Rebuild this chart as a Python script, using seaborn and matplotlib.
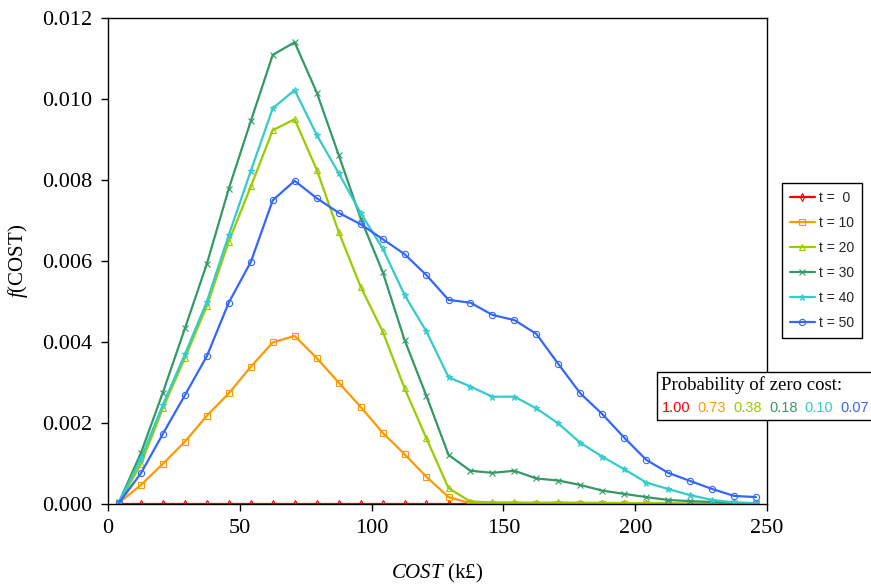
import pandas as pd
import matplotlib
matplotlib.use("Agg")
import matplotlib.pyplot as plt
import seaborn as sns
from matplotlib.patches import Rectangle
from matplotlib.ticker import FormatStrFormatter

# estilo
sns.set_theme(style="white")
plt.rcParams["font.family"] = ["Liberation Serif", "DejaVu Serif"]
plt.rcParams["mathtext.fontset"] = "custom"
plt.rcParams["mathtext.rm"] = "Liberation Serif"
plt.rcParams["mathtext.it"] = "Liberation Serif:italic"

# dados (densidade do custo por ano)
cost = [4.2, 12.5, 20.8, 29.2, 37.5, 45.8, 54.2, 62.5, 70.8, 79.2,
        87.5, 95.8, 104.2, 112.5, 120.8, 129.2, 137.5, 145.8, 154.2, 162.5,
        170.8, 179.2, 187.5, 195.8, 204.2, 212.5, 220.8, 229.2, 237.5, 245.8]

f_t0 = [0.0, 0.0, 0.0, 0.0, 0.0, 0.0, 0.0, 0.0, 0.0, 0.0,
        0.0, 0.0, 0.0, 0.0, 0.0, 0.0, 0.0, 0.0, 0.0, 0.0,
        0.0, 0.0, 0.0, 0.0, 0.0, 0.0, 0.0, 0.0, 0.0, 0.0]
f_t10 = [0.00003, 0.00047, 0.00099, 0.00154, 0.00218, 0.00273, 0.00339, 0.00399, 0.00415, 0.00360,
         0.00300, 0.00240, 0.00176, 0.00123, 0.00067, 0.00017, 0.00002, 0.00001, 0.00001, 0.00001,
         0.00001, 0.00001, 0.00001, 0.0, 0.0, 0.0, 0.0, 0.0, 0.0, 0.0]
f_t20 = [0.00003, 0.00099, 0.00236, 0.00361, 0.00489, 0.00648, 0.00784, 0.00923, 0.00950, 0.00825,
         0.00672, 0.00537, 0.00426, 0.00286, 0.00162, 0.00039, 0.00006, 0.00004, 0.00004, 0.00003,
         0.00004, 0.00003, 0.00003, 0.00002, 0.00002, 0.00002, 0.00001, 0.00001, 0.00001, 0.00001]
f_t30 = [0.00005, 0.00126, 0.00275, 0.00434, 0.00593, 0.00778, 0.00946, 0.01109, 0.01140, 0.01016,
         0.00862, 0.00706, 0.00573, 0.00405, 0.00267, 0.00121, 0.00082, 0.00077, 0.00082, 0.00063,
         0.00058, 0.00047, 0.00033, 0.00025, 0.00017, 0.00010, 0.00007, 0.00005, 0.00003, 0.00002]
f_t40 = [0.00005, 0.00112, 0.00245, 0.00370, 0.00500, 0.00664, 0.00823, 0.00977, 0.01022, 0.00911,
         0.00817, 0.00719, 0.00631, 0.00516, 0.00426, 0.00313, 0.00290, 0.00265, 0.00265, 0.00236,
         0.00199, 0.00151, 0.00117, 0.00086, 0.00053, 0.00037, 0.00022, 0.00010, 0.00004, 0.00002]
f_t50 = [0.00003, 0.00076, 0.00173, 0.00269, 0.00365, 0.00497, 0.00598, 0.00750, 0.00798, 0.00755,
         0.00719, 0.00691, 0.00654, 0.00617, 0.00565, 0.00504, 0.00497, 0.00467, 0.00454, 0.00420,
         0.00346, 0.00273, 0.00222, 0.00164, 0.00109, 0.00077, 0.00057, 0.00037, 0.00020, 0.00017]

series = [f_t0, f_t10, f_t20, f_t30, f_t40, f_t50]
labels = ["t =  0", "t = 10", "t = 20", "t = 30", "t = 40", "t = 50"]
prob_zero = [1.00, 0.73, 0.38, 0.18, 0.10, 0.07]

colors = ["#FF0000", "#FF9900", "#99CC00", "#339966", "#33CCCC", "#3366FF"]
markers = ["d", "s", "^", "x", "*", "o"]
msizes = [4, 5, 5, 4, 5, 4.5]

# tabela longa para o seaborn
df = pd.concat([pd.DataFrame({"cost": cost, "f": s, "label": lab})
                for s, lab in zip(series, labels)], ignore_index=True)

fig = plt.figure(figsize=(8.71, 5.86), dpi=100)
ax = fig.add_axes([108 / 871, 1 - 504 / 586, (767 - 108) / 871, (504 - 18) / 586])

for lab, c, m, ms in zip(labels, colors, markers, msizes):
    sub = df[df["label"] == lab]
    sns.lineplot(data=sub, x="cost", y="f", color=c, marker=m, markersize=ms,
                 markerfacecolor="none", markeredgecolor=c, markeredgewidth=0.8,
                 linewidth=1.6, label=lab, ax=ax, sort=False)

ax.set_xlim(0, 250)
ax.set_ylim(0, 0.012)
ax.set_xticks([0, 50, 100, 150, 200, 250])
ax.set_yticks([0, 0.002, 0.004, 0.006, 0.008, 0.010, 0.012])
ax.yaxis.set_major_formatter(FormatStrFormatter("%.3f"))
ax.tick_params(axis="both", direction="out", length=5, width=1, color="black",
               labelsize=16, labelcolor="black", bottom=True, left=True, pad=6)
for sp in ax.spines.values():
    sp.set_color("black")
    sp.set_linewidth(1)

ax.set_xlabel("$COST$ (k£)", fontsize=15, color="black", labelpad=17)
ax.set_ylabel("$f$(COST)", fontsize=15, color="black", labelpad=9)

leg = ax.legend(loc="upper left", bbox_to_anchor=(782 / 871, 1 - 183 / 586),
                bbox_transform=fig.transFigure, borderaxespad=0,
                prop={"family": "Liberation Sans", "size": 10},
                frameon=True, fancybox=False, framealpha=1, edgecolor="black",
                handlelength=1.8, labelspacing=0.8, handletextpad=0.3, borderpad=0.55)
leg.get_frame().set_linewidth(1)

# caixa com probabilidade de custo zero
box = Rectangle((657 / 871, 1 - 420 / 586), (880 - 657) / 871, 48 / 586,
                transform=fig.transFigure, facecolor="white", edgecolor="black",
                linewidth=1, zorder=10)
fig.add_artist(box)
fig.text(661 / 871, 1 - 385 / 586, "Probability of zero cost:", fontsize=13.5,
         color="black", va="center", ha="left", zorder=11)
for i, (p, c) in enumerate(zip(prob_zero, colors)):
    fig.text((662 + i * 35.7) / 871, 1 - 408 / 586, "{:.2f}".format(p), color=c,
             family="Liberation Sans", fontsize=10.5, va="center", ha="left", zorder=11)

fig.savefig("out.png", dpi=100)
